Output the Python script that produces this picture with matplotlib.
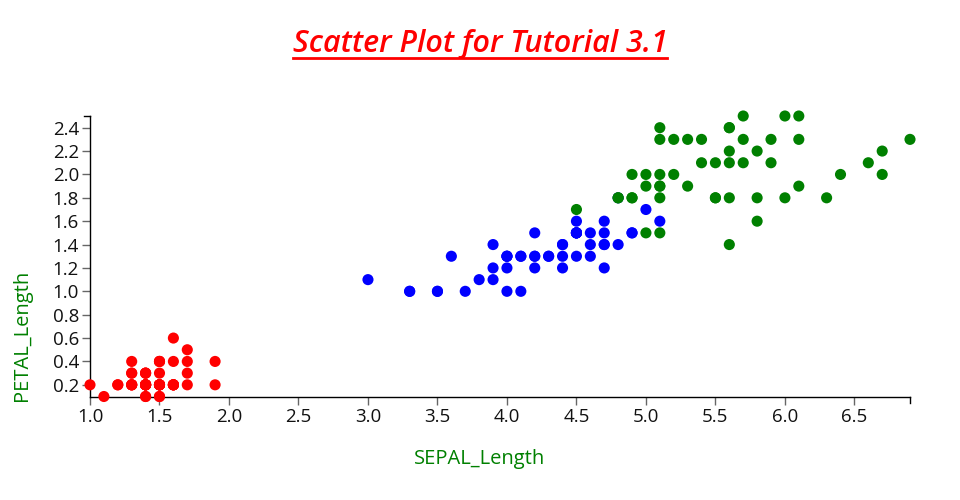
import matplotlib
matplotlib.use("Agg")
import matplotlib.pyplot as plt
from matplotlib.lines import Line2D

plt.rcParams['font.family'] = ['Open Sans', 'DejaVu Sans']

setosa_x = [1.4,1.4,1.3,1.5,1.4,1.7,1.4,1.5,1.4,1.5,1.5,1.6,1.4,1.1,1.2,1.5,1.3,1.4,1.7,1.5,
            1.7,1.5,1.0,1.7,1.9,1.6,1.6,1.5,1.4,1.6,1.6,1.5,1.5,1.4,1.5,1.2,1.3,1.4,1.3,1.5,
            1.3,1.3,1.3,1.6,1.9,1.4,1.6,1.4,1.5,1.4]
setosa_y = [0.2,0.2,0.2,0.2,0.2,0.4,0.3,0.2,0.2,0.1,0.2,0.2,0.1,0.1,0.2,0.4,0.4,0.3,0.3,0.3,
            0.2,0.4,0.2,0.5,0.2,0.2,0.4,0.2,0.2,0.2,0.2,0.4,0.1,0.2,0.2,0.2,0.2,0.1,0.2,0.2,
            0.3,0.3,0.2,0.6,0.4,0.3,0.2,0.2,0.2,0.2]
versicolor_x = [4.7,4.5,4.9,4.0,4.6,4.5,4.7,3.3,4.6,3.9,3.5,4.2,4.0,4.7,3.6,4.4,4.5,4.1,4.5,3.9,
                4.8,4.0,4.9,4.7,4.3,4.4,4.8,5.0,4.5,3.5,3.8,3.7,3.9,5.1,4.5,4.5,4.7,4.4,4.1,4.0,
                4.4,4.6,4.0,3.3,4.2,4.2,4.2,4.3,3.0,4.1]
versicolor_y = [1.4,1.5,1.5,1.3,1.5,1.3,1.6,1.0,1.3,1.4,1.0,1.5,1.0,1.4,1.3,1.4,1.5,1.0,1.5,1.1,
                1.8,1.3,1.5,1.2,1.3,1.4,1.4,1.7,1.5,1.0,1.1,1.0,1.2,1.6,1.5,1.6,1.5,1.3,1.3,1.3,
                1.2,1.4,1.2,1.0,1.3,1.2,1.3,1.3,1.1,1.3]
virginica_x = [6.0,5.1,5.9,5.6,5.8,6.6,4.5,6.3,5.8,6.1,5.1,5.3,5.5,5.0,5.1,5.3,5.5,6.7,6.9,5.0,
               5.7,4.9,6.7,4.9,5.7,6.0,4.8,4.9,5.6,5.8,6.1,6.4,5.6,5.1,5.6,6.1,5.6,5.5,4.8,5.4,
               5.6,5.1,5.1,5.9,5.7,5.2,5.0,5.2,5.4,5.1]
virginica_y = [2.5,1.9,2.1,1.8,2.2,2.1,1.7,1.8,1.8,2.5,2.0,1.9,2.1,2.0,2.4,2.3,1.8,2.2,2.3,1.5,
               2.3,2.0,2.0,1.8,2.1,1.8,1.8,1.8,2.1,1.6,1.9,2.0,2.2,1.5,1.4,2.3,2.4,1.8,1.8,2.1,
               2.4,2.3,1.9,2.3,2.5,2.3,1.9,2.0,2.3,1.8]

x_ticks = [1.0, 1.5, 2.0, 2.5, 3.0, 3.5, 4.0, 4.5, 5.0, 5.5, 6.0, 6.5]
y_ticks = [0.2, 0.4, 0.6, 0.8, 1.0, 1.2, 1.4, 1.6, 1.8, 2.0, 2.2, 2.4]

fig = plt.figure(figsize=(9.6, 5.0), dpi=100)
ax = fig.add_axes([90/960, 1-396.5/500, (910-90)/960, (396.5-116)/500])

for xs, ys, c in [(setosa_x, setosa_y, '#ff0000'),
                  (versicolor_x, versicolor_y, '#0000ff'),
                  (virginica_x, virginica_y, '#008000')]:
    ax.scatter(xs, ys, s=64, c=c, edgecolors='none', clip_on=False, zorder=3)

ax.set_xlim(1.0, 6.9)
ax.set_ylim(0.1, 2.5)
ax.set_xticks(x_ticks)
ax.set_xticklabels([f"{v:.1f}" for v in x_ticks])
ax.set_yticks(y_ticks)
ax.set_yticklabels([f"{v:.1f}" for v in y_ticks])
for s in ['top', 'right']:
    ax.spines[s].set_visible(False)
for s in ['left', 'bottom']:
    ax.spines[s].set_linewidth(1.0)
    ax.spines[s].set_color('black')
ax.tick_params(axis='both', length=6, width=1, color='#666666', labelsize=13.5,
               labelcolor='#111111', pad=2)

# outer domain ticks (d3 style)
ax.add_line(Line2D([1, 1], [0, -6/280.5], transform=ax.transAxes, color='black', lw=1, clip_on=False))
ax.add_line(Line2D([0, -6/820], [1, 1], transform=ax.transAxes, color='black', lw=1, clip_on=False))

fig.text(480/960, 1-459/500, 'SEPAL_Length', color='#008000', fontsize=14.5,
         ha='center', va='center')
fig.text(22/960, 1-335/500, 'PETAL_Length', color='#008000', fontsize=14.5,
         ha='center', va='center', rotation=90)

t = fig.text(480/960, 1-44/500, 'Scatter Plot for Tutorial 3.1', color='#ff0000',
             fontsize=22, fontstyle='italic', fontweight='semibold', ha='center', va='center')
fig.canvas.draw()
bb = t.get_window_extent()
uy = 1 - 57.5/500
fig.add_artist(Line2D([bb.x0/960, bb.x1/960], [uy, uy], color='#ff0000', lw=2,
                      transform=fig.transFigure))

fig.savefig('out.png', dpi=100)
